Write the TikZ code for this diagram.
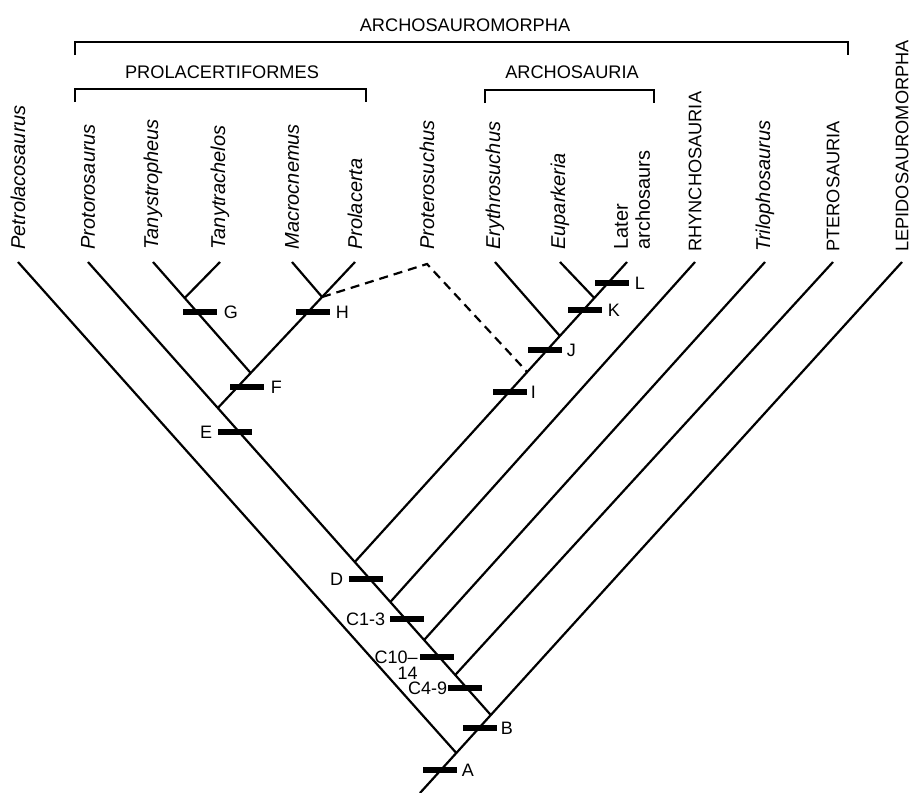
\documentclass[tikz,border=0pt]{standalone}
\usepackage{fontspec}
\setsansfont{Liberation Sans}
\usetikzlibrary{positioning}
\tikzset{genus label/.style={rotate=90,inner sep=0pt,font=\sffamily\itshape\fontsize{10}{11}\selectfont},
         group label/.style={genus label,font=\sffamily\fontsize{9.1}{11}\selectfont},
         clade name/.style={inner sep=0pt,font=\sffamily\fontsize{9.1}{11}\selectfont},
         char bar/.style={fill=black,inner sep=0pt,minimum width=17pt,minimum height=2.8pt},
         bar label/.style={inner sep=0pt,font=\sffamily\fontsize{9}{10}\selectfont},
         branch/.style={line width=1.1pt},
         link/.style={dash pattern=on 4.5pt off 3pt},
         bracket/.style={line width=0.6pt},
            }

\begin{document}
\begin{tikzpicture}[x=0.5pt,y=-0.5pt]
    \useasboundingbox (0,0) rectangle (911,793);

    % tips
    \coordinate (t1) at (18,262);
    \coordinate (t2) at (88,262);
    \coordinate (t3) at (153,262);
    \coordinate (t4) at (220,262);
    \coordinate (t5) at (292,262);
    \coordinate (t6) at (355,262);
    \coordinate (t7) at (427,264);
    \coordinate (t8) at (495,262);
    \coordinate (t9) at (560,262);
    \coordinate (t10) at (627,262);
    \coordinate (t11) at (695,262);
    \coordinate (t12) at (765,262);
    \coordinate (t13) at (833,262);
    \coordinate (t14) at (902,262);

    % junctions
    \coordinate (root) at (420,793);
    \coordinate (nA) at (456.3,753);
    \coordinate (nB) at (490.8,715);
    \coordinate (nPt) at (455.2,675);
    \coordinate (nTr) at (424.1,640);
    \coordinate (nRh) at (390.3,602);
    \coordinate (nAr) at (354.8,562);
    \coordinate (nE) at (217.8,408);
    \coordinate (nF) at (250.7,373);
    \coordinate (nG) at (184.7,298);
    \coordinate (nH) at (322.1,297);
    \coordinate (nJ) at (559.9,336);
    \coordinate (nK) at (594.3,298);
    \coordinate (nP) at (527.2,372);

    \path[draw,branch]
    (root) edge (t14)
    (nA) edge (t1)
    (nB) edge (t2)
    (nPt) edge (t13)
    (nTr) edge (t12)
    (nRh) edge (t11)
    (nAr) edge (t10)
    (nJ) edge (t8)
    (nK) edge (t9)
    (nE) edge (t6)
    (nF) edge (t3)
    (nG) edge (t4)
    (nH) edge (t5);

    \draw[branch,link] (nH) -- (t7) -- (nP);

    % taxa
    \node[genus label] (petro) [above=6pt of t1,anchor=west] {Petrolacosaurus};
    \node[genus label] (proto) [above=6pt of t2,anchor=west] {Protorosaurus};
    \node[genus label] (tanys) [above=6pt of t3,anchor=west] {Tanystropheus};
    \node[genus label] (tanyt) [above=6pt of t4,anchor=west] {Tanytrachelos};
    \node[genus label] (macro) [above=6pt of t5,anchor=west] {Macrocnemus};
    \node[genus label] (prola) [above=6pt of t6,anchor=west] {Prolacerta};
    \node[genus label] (prote) [above=7pt of t7,anchor=west] {Proterosuchus};
    \node[genus label] (eryth) [above=6pt of t8,anchor=west] {Erythrosuchus};
    \node[genus label] (eupar) [above=6pt of t9,anchor=west] {Euparkeria};
    \node[genus label,align=left,font=\sffamily\fontsize{10}{11}\selectfont] (later)
        [above right=6pt and 2.5pt of t10,anchor=west] {Later\\archosaurs};
    \node[group label] (rhyn) [above=5pt of t11,anchor=west] {RHYNCHOSAURIA};
    \node[genus label] (trilo) [above=5pt of t12,anchor=west] {Trilophosaurus};
    \node[group label] (ptero) [above=5pt of t13,anchor=west] {PTEROSAURIA};
    \node[group label] (lepi) [above=5pt of t14,anchor=west] {LEPIDOSAUROMORPHA};

    % characters
    \node[char bar] (bA) at (440,770) {};
    \node[char bar] (bB) at (480,728) {};
    \node[char bar] (bC49) at (465,688) {};
    \node[char bar] (bC1014) at (437,657) {};
    \node[char bar] (bC13) at (407,619) {};
    \node[char bar] (bD) at (366,579) {};
    \node[char bar] (bE) at (235,432) {};
    \node[char bar] (bF) at (247,387) {};
    \node[char bar] (bG) at (200,312) {};
    \node[char bar] (bH) at (313,312) {};
    \node[char bar] (bI) at (510,392) {};
    \node[char bar] (bJ) at (545,350) {};
    \node[char bar] (bK) at (585,310) {};
    \node[char bar] (bL) at (612,283) {};

    \node[bar label] (lA) [right=2pt of bA] {A};
    \node[bar label] (lB) [right=1.5pt of bB] {B};
    \node[bar label] (lC49) [left=0pt of bC49] {C4-9};
    \node[bar label,align=right,anchor=base east] (lC1014) at (418,679) {C10--\\[-2pt]14};
    \node[bar label] (lC13) [left=2pt of bC13] {C1-3};
    \node[bar label] (lD) [left=2.5pt of bD] {D};
    \node[bar label] (lE) [left=2.5pt of bE] {E};
    \node[bar label] (lF) [right=3pt of bF] {F};
    \node[bar label] (lG) [right=3pt of bG] {G};
    \node[bar label] (lH) [right=2.5pt of bH] {H};
    \node[bar label] (lI) [right=1.5pt of bI] {I};
    \node[bar label] (lJ) [right=2pt of bJ] {J};
    \node[bar label] (lK) [right=2.5pt of bK] {K};
    \node[bar label] (lL) [right=2.5pt of bL] {L};

    % groups
    \coordinate (am-l) at (75,55);
    \coordinate (am-r) at (848,55);
    \draw[bracket] (am-l) -- ++(0,-13) -| (am-r);
    \node[clade name,anchor=base] (archo) at (465,31) {ARCHOSAUROMORPHA};

    \coordinate (pf-l) at (75,102);
    \coordinate (pf-r) at (366,102);
    \draw[bracket] (pf-l) -- ++(0,-13) -| (pf-r);
    \node[clade name,anchor=base] (prolac) at (222,78) {PROLACERTIFORMES};

    \coordinate (as-l) at (485,103);
    \coordinate (as-r) at (654,103);
    \draw[bracket] (as-l) -- ++(0,-13) -| (as-r);
    \node[clade name,anchor=base] (archsa) at (572,78) {ARCHOSAURIA};
\end{tikzpicture}
\end{document}
